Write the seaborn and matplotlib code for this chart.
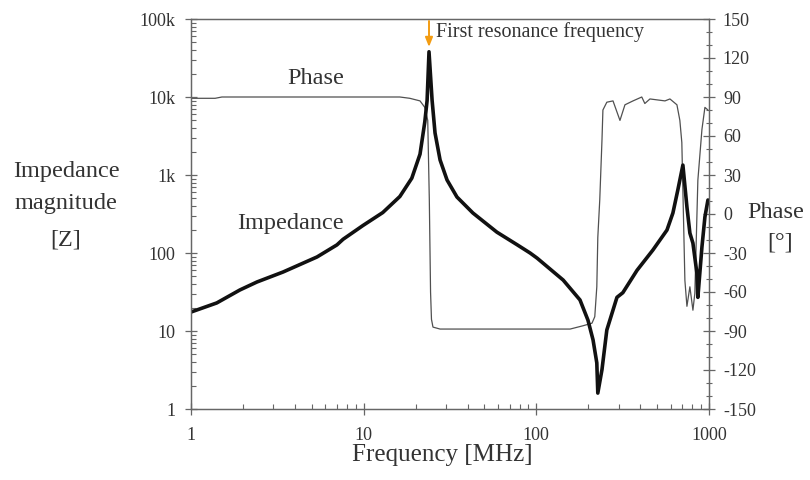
import matplotlib
matplotlib.use("Agg")
import matplotlib.pyplot as plt
from matplotlib.ticker import FixedLocator, NullFormatter, LogLocator, MultipleLocator
import numpy as np
import pandas as pd
import seaborn as sns

# Impedance magnitude |Z| versus frequency
imp_freq_mhz = [1.0, 1.41, 1.92, 2.41, 3.41, 5.37, 7.0, 7.6, 9.9, 12.9, 16.2, 19.0,
                21.2, 22.6, 23.3, 23.9, 24.9, 25.9, 27.7, 30.4, 34.7, 42.9, 59.1,
                77.2, 92.0, 101, 143, 179, 199, 213, 224, 227, 240, 256, 293, 317,
                383, 473, 571, 618, 660, 706, 745, 775, 807, 851, 862, 910, 947, 986]
imp_ohm = [17.5, 22.9, 33.6, 42.5, 57, 89, 127, 150, 225, 330, 530, 910,
           1850, 4800, 9000, 38000, 9130, 3460, 1560, 863, 522, 326, 185,
           128, 100, 86, 45, 25, 13.8, 7.7, 3.9, 1.6, 3.2, 10.3, 27, 31,
           60, 109, 197, 326, 644, 1340, 389, 180, 134, 55, 27, 119, 290, 478]

# Phase angle versus frequency
phase_freq_mhz = [1.0, 1.38, 1.51, 16.2, 18.5, 21.2, 22.6, 23.5, 24.0, 24.4, 24.7,
                  25.2, 27.7, 157, 186, 210, 218, 224, 227, 233, 240, 243, 256,
                  278, 305, 326, 363, 408, 425, 455, 556, 594, 652, 678, 696, 725,
                  745, 775, 807, 828, 862, 910, 947, 986]
phase_deg = [89, 89, 90, 90, 89, 87, 82, 72, 11, -60, -81,
             -87, -88.5, -88.5, -86, -84, -79, -56, -18, 11, 57, 80, 86,
             87, 72, 84, 87, 90, 85, 88.5, 87, 88.5, 84, 72, 55, -51,
             -71, -56, -74, -61, 26, 65, 82, 80]

imp_ticks = [1, 10, 100, 1000, 10000, 100000]
imp_tick_labels = ["1", "10", "100", "1k", "10k", "100k"]
freq_ticks = [1, 10, 100, 1000]
freq_tick_labels = ["1", "10", "100", "1000"]
phase_ticks = [150, 120, 90, 60, 30, 0, -30, -60, -90, -120, -150]
phase_tick_labels = [str(v) for v in phase_ticks]

resonance_freq = 23.9

sns.set_style("ticks")
plt.rcParams["font.family"] = ["Liberation Serif", "DejaVu Serif"]

text_col = "#333333"
axis_col = "#666666"

imp_df = pd.DataFrame({"freq": imp_freq_mhz, "z": imp_ohm})
ph_df = pd.DataFrame({"freq": phase_freq_mhz, "phase": phase_deg})

fig = plt.figure(figsize=(8.1, 4.8), dpi=100)
ax = fig.add_axes([191 / 810, 71 / 480, 518 / 810, 390 / 480])
ax2 = ax.twinx()

sns.lineplot(data=ph_df, x="freq", y="phase", ax=ax2, color="#505050",
             linewidth=0.9, estimator=None, sort=False)
sns.lineplot(data=imp_df, x="freq", y="z", ax=ax, color="#111111",
             linewidth=2.6, estimator=None, sort=False)

# impedance on top of the phase trace
ax.set_zorder(ax2.get_zorder() + 1)
ax.patch.set_visible(False)

ax.set_xscale("log")
ax.set_yscale("log")
ax.set_xlim(1, 1000)
ax.set_ylim(1, 100000)
ax2.set_ylim(-150, 150)

ax.set_xlabel("")
ax.set_ylabel("")
ax2.set_xlabel("")
ax2.set_ylabel("")

ax.xaxis.set_major_locator(FixedLocator(freq_ticks))
ax.set_xticklabels(freq_tick_labels)
ax.xaxis.set_minor_locator(LogLocator(base=10, subs=np.arange(2, 10)))
ax.xaxis.set_minor_formatter(NullFormatter())
ax.yaxis.set_major_locator(FixedLocator(imp_ticks))
ax.set_yticklabels(imp_tick_labels)
ax.yaxis.set_minor_locator(LogLocator(base=10, subs=np.arange(2, 10)))
ax.yaxis.set_minor_formatter(NullFormatter())

ax2.yaxis.set_major_locator(FixedLocator(phase_ticks))
ax2.set_yticklabels(phase_tick_labels)
ax2.yaxis.set_minor_locator(MultipleLocator(10))

for a in (ax, ax2):
    for s in a.spines.values():
        s.set_visible(True)
        s.set_color(axis_col)
        s.set_linewidth(0.9)

ax.tick_params(axis="both", which="major", direction="inout", length=8,
               width=0.9, color=axis_col, labelcolor=text_col, labelsize=13)
ax.tick_params(axis="both", which="minor", direction="in", length=3.5,
               width=0.8, color=axis_col)
ax.tick_params(axis="x", which="major", pad=9)
ax.tick_params(axis="y", which="major", pad=7)
ax.tick_params(right=False, which="both")
ax2.tick_params(axis="y", which="major", direction="inout", length=8,
                width=0.9, color=axis_col, labelcolor=text_col, labelsize=13, pad=6)
ax2.tick_params(axis="y", which="minor", direction="inout", length=4,
                width=0.8, color=axis_col)

# curve labels
ax.text(10 ** ((316 - 191) / 172.7), 10 ** ((409 - 78) / 78), "Phase",
        ha="center", va="center", fontsize=17.5, color=text_col)
ax.text(10 ** ((290 - 191) / 172.7), 10 ** ((409 - 224) / 78), "Impedance",
        ha="center", va="center", fontsize=17.5, color=text_col)

# resonance marker
ax.annotate("", xy=(resonance_freq, 10 ** ((409 - 47) / 78)),
            xytext=(resonance_freq, 10 ** ((409 - 21) / 78)),
            arrowprops=dict(arrowstyle="-|>,head_length=0.55,head_width=0.22",
                            color="#f39c12", lw=1.4, shrinkA=0, shrinkB=0),
            annotation_clip=False)
ax.text(10 ** ((436 - 191) / 172.7), 10 ** ((409 - 32) / 78),
        "First resonance frequency", ha="left", va="center",
        fontsize=14.5, color=text_col)

# axis titles
fig.text(442 / 810, 1 - 455 / 480, "Frequency [MHz]", ha="center", va="center",
         fontsize=18, color=text_col)
for label, ypx in (("Impedance", 172), ("magnitude", 203), ("[Z]", 240)):
    fig.text(66 / 810, 1 - ypx / 480, label, ha="center", va="center",
             fontsize=17.5, color=text_col)
fig.text(776 / 810, 1 - 213 / 480, "Phase", ha="center", va="center",
         fontsize=17.5, color=text_col)
fig.text(780 / 810, 1 - 243 / 480, "[°]", ha="center", va="center",
         fontsize=17.5, color=text_col)

fig.savefig("out.png", dpi=100)
